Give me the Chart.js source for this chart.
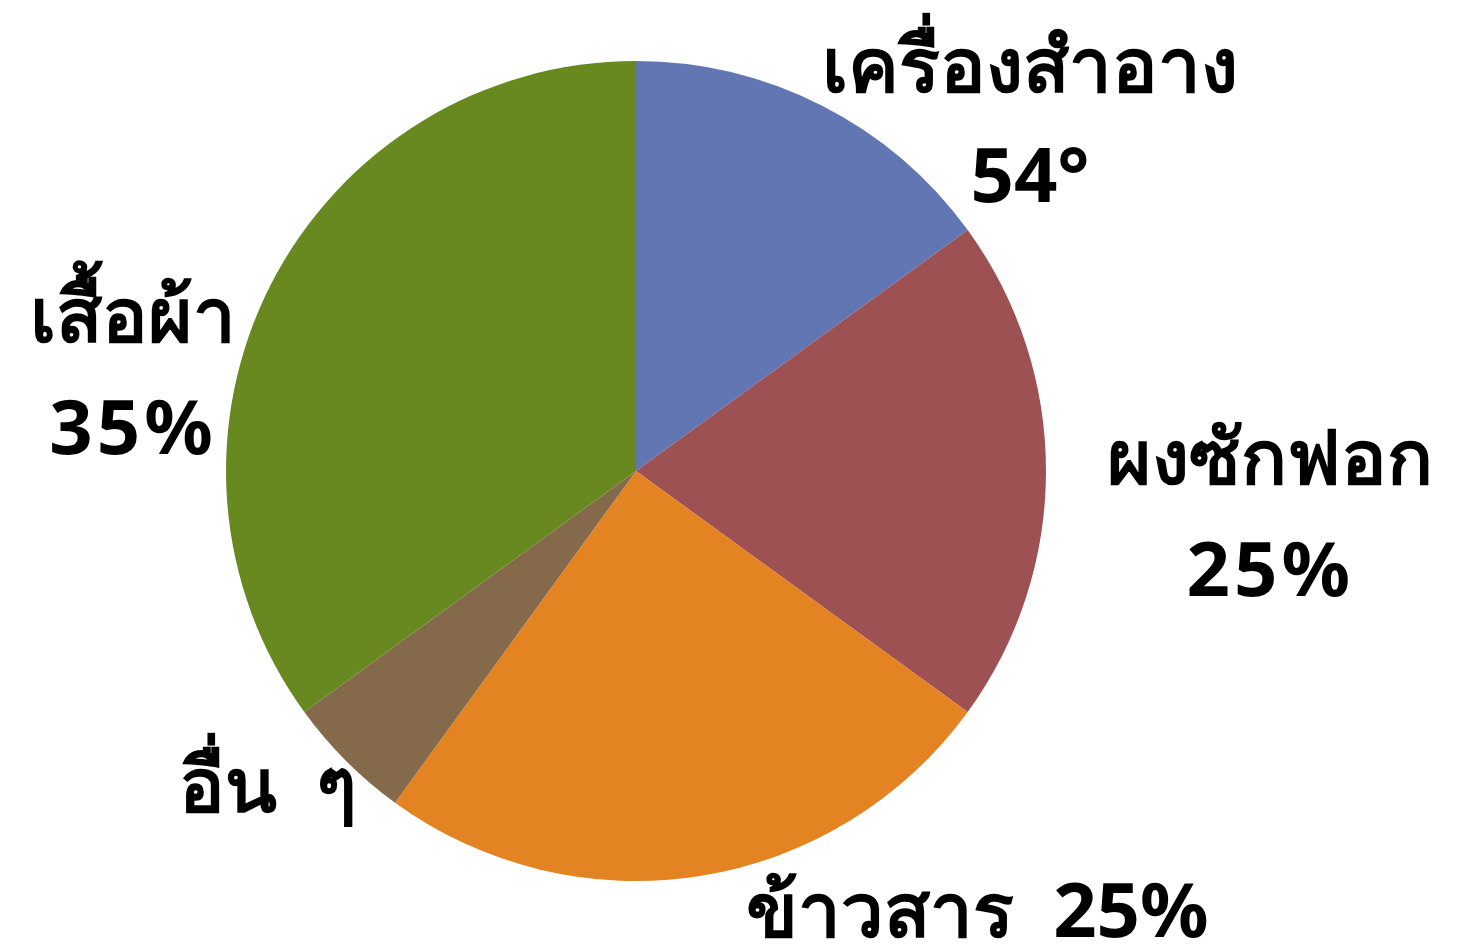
<!DOCTYPE html>
<html><head><meta charset="utf-8">
<script src="https://cdn.jsdelivr.net/npm/chart.js@4/dist/chart.umd.min.js"></script>
<style>html,body{margin:0;padding:0;background:#fff;}#wrap{width:1457px;height:950px;position:relative;}</style>
</head><body><div id="wrap"><canvas id="c" width="1457" height="950"></canvas></div>
<script>
const categories = ["เครื่องสำอาง", "ผงซักฟอก", "ข้าวสาร", "อื่น ๆ", "เสื้อผ้า"];
const values = [15, 20, 25, 5, 35];
const colors = ["#6176B3", "#9D5152", "#E48322", "#84694A", "#67891F"];
const labelLines = [["เครื่องสำอาง", "54°"], ["ผงซักฟอก", "25%"], ["ข้าวสาร  25%"], ["อื่น  ๆ"], ["เสื้อผ้า", "35%"]];
// label anchor offsets relative to pie center, in radius units
const labelPos = [[0.961, -0.978, 0.27], [1.547, -0.022, 0.275], [0.832, 1.083, 0], [-0.898, 0.778, 0], [-1.227, -0.368, 0.273]];

const labelPlugin = {
  id: 'outLabels',
  afterDraw(chart) {
    const meta = chart.getDatasetMeta(0);
    const arc = meta.data[0];
    const cx = arc.x, cy = arc.y, r = arc.outerRadius;
    const ctx = chart.ctx;
    ctx.save();
    ctx.fillStyle = '#000';
    ctx.textAlign = 'center';
    ctx.textBaseline = 'middle';
    ctx.font = 'bold 76px "Noto Sans", "DejaVu Sans", sans-serif';
    labelLines.forEach((lines, i) => {
      const [fx, fy, gap] = labelPos[i];
      lines.forEach((t, j) => {
        ctx.letterSpacing = /^[0-9]+%$/.test(t) ? '4px' : '0px';
        ctx.fillText(t, cx + fx * r, cy + (fy + j * gap) * r);
      });
    });
    ctx.restore();
  }
};

new Chart(document.getElementById('c'), {
  type: 'pie',
  data: { labels: categories, datasets: [{ data: values, backgroundColor: colors, borderWidth: 0 }] },
  options: {
    responsive: false,
    animation: false,
    layout: { padding: { left: 226, right: 411, top: 61, bottom: 69 } },
    plugins: { legend: { display: false }, tooltip: { enabled: false } }
  },
  plugins: [labelPlugin]
});
</script></body></html>
